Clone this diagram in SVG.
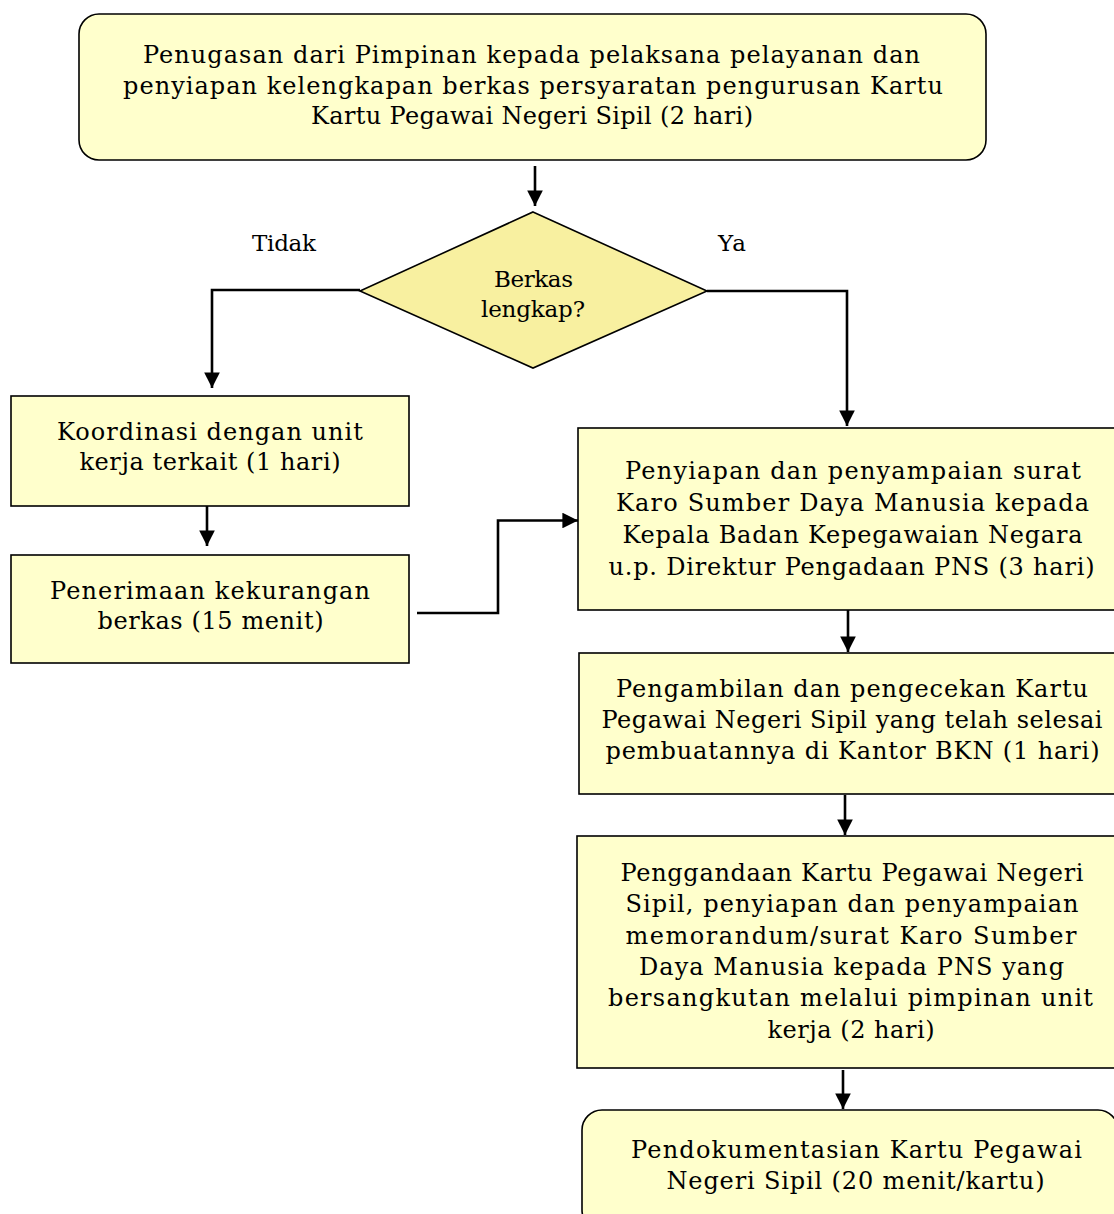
<svg xmlns="http://www.w3.org/2000/svg" width="1114" height="1214" viewBox="0 0 1114 1214">
<defs>
<marker id="ah" viewBox="0 0 10 10" refX="10" refY="5" markerWidth="6" markerHeight="6" markerUnits="strokeWidth" orient="auto">
<path d="M0,0 L10,5 L0,10 z" fill="#000"/>
</marker>
<style>
.box{fill:#FFFFCC;stroke:#000;stroke-width:1.6}
.dia{fill:#F8F0A0;stroke:#000;stroke-width:1.6}
.t{font-family:"DejaVu Serif","Liberation Serif",serif;font-size:24px;fill:#000}
.s{font-size:23px}
.c{fill:none;stroke:#000;stroke-width:2.6;marker-end:url(#ah)}
</style>
</defs>
<rect width="1114" height="1214" fill="#fff"/>
<g id="connectors">
<path class="c" d="M535,166 V206"/>
<path class="c" d="M360,290 H212 V388"/>
<path class="c" d="M707,291 H847 V426"/>
<path class="c" d="M207,506 V546"/>
<path class="c" d="M417,613 H498 V520.5 H578"/>
<path class="c" d="M848,610 V652"/>
<path class="c" d="M845,795 V835"/>
<path class="c" d="M843,1070 V1109"/>
</g>
<g id="n1">
<rect class="box" x="79" y="14" width="907" height="146" rx="20"/>
<text class="t" x="143" y="63" textLength="777">Penugasan dari Pimpinan kepada pelaksana pelayanan dan</text>
<text class="t" x="123" y="94" textLength="820">penyiapan kelengkapan berkas persyaratan pengurusan Kartu</text>
<text class="t" x="311" y="124" textLength="442">Kartu Pegawai Negeri Sipil (2 hari)</text>
</g>
<g id="decision">
<polygon class="dia" points="533,212 707,291 533,368 360,291"/>
<text class="t s" x="494" y="287" textLength="79">Berkas</text>
<text class="t s" x="481" y="317" textLength="104">lengkap?</text>
</g>
<g id="lbl-tidak"><text class="t s" x="252" y="251" textLength="64">Tidak</text></g>
<g id="lbl-ya"><text class="t s" x="718" y="251" textLength="28">Ya</text></g>
<g id="n2">
<rect class="box" x="11" y="396" width="398" height="110"/>
<text class="t" x="57" y="440" textLength="306">Koordinasi dengan unit</text>
<text class="t" x="79.5" y="470" textLength="261">kerja terkait (1 hari)</text>
</g>
<g id="n3">
<rect class="box" x="11" y="555" width="398" height="108"/>
<text class="t" x="50" y="599" textLength="320">Penerimaan kekurangan</text>
<text class="t" x="97.5" y="629" textLength="226">berkas (15 menit)</text>
</g>
<g id="n4">
<rect class="box" x="578" y="428" width="545" height="182"/>
<text class="t" x="625" y="479" textLength="456">Penyiapan dan penyampaian surat</text>
<text class="t" x="616" y="511" textLength="473">Karo Sumber Daya Manusia kepada</text>
<text class="t" x="622.5" y="543" textLength="460">Kepala Badan Kepegawaian Negara</text>
<text class="t" x="608.5" y="575" textLength="486">u.p. Direktur Pengadaan PNS (3 hari)</text>
</g>
<g id="n5">
<rect class="box" x="579" y="653" width="545" height="141"/>
<text class="t" x="616" y="697" textLength="472">Pengambilan dan pengecekan Kartu</text>
<text class="t" x="601.5" y="728" textLength="501">Pegawai Negeri Sipil yang telah selesai</text>
<text class="t" x="605.5" y="759" textLength="494">pembuatannya di Kantor BKN (1 hari)</text>
</g>
<g id="n6">
<rect class="box" x="577" y="836" width="547" height="232"/>
<text class="t" x="620.5" y="881" textLength="463">Penggandaan Kartu Pegawai Negeri</text>
<text class="t" x="625.5" y="912" textLength="453">Sipil, penyiapan dan penyampaian</text>
<text class="t" x="625.5" y="944" textLength="451">memorandum/surat Karo Sumber</text>
<text class="t" x="639" y="975" textLength="425">Daya Manusia kepada PNS yang</text>
<text class="t" x="608" y="1006" textLength="485">bersangkutan melalui pimpinan unit</text>
<text class="t" x="767.5" y="1038" textLength="167">kerja (2 hari)</text>
</g>
<g id="n7">
<rect class="box" x="582" y="1110" width="536" height="120" rx="20"/>
<text class="t" x="631" y="1158" textLength="451">Pendokumentasian Kartu Pegawai</text>
<text class="t" x="666.5" y="1189" textLength="378">Negeri Sipil (20 menit/kartu)</text>
</g>
</svg>
